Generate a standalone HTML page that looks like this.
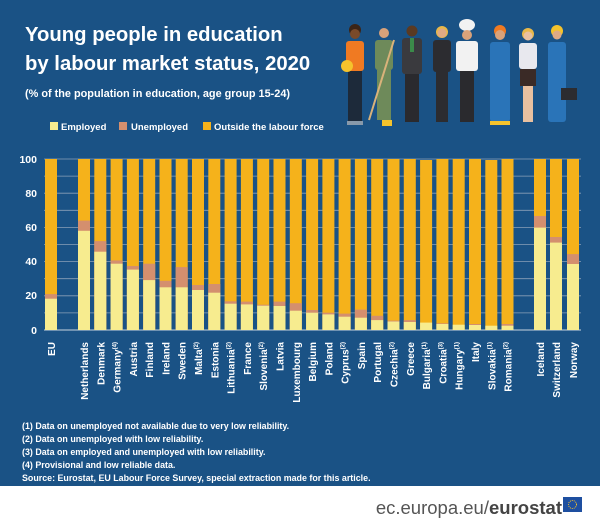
<!DOCTYPE html>
<html><head><meta charset="utf-8"><style>
html,body{margin:0;padding:0;background:#fff;}
svg{display:block;font-family:"Liberation Sans",sans-serif;}
</style></head><body>
<svg width="600" height="525" viewBox="0 0 600 525" xmlns="http://www.w3.org/2000/svg">
<rect x="0" y="0" width="600" height="486" fill="#1a5285"/>
<text x="25" y="41" fill="#fff" font-size="20.3" font-weight="bold">Young people in education</text>
<text x="25" y="70" fill="#fff" font-size="20.3" font-weight="bold">by labour market status, 2020</text>
<text x="25" y="97" fill="#fff" font-size="10.9" font-weight="bold">(% of the population in education, age group 15-24)</text>
<rect x="50" y="122" width="8" height="8" fill="#f7ec8f"/><text x="61" y="130" fill="#fff" font-size="9.5" font-weight="bold">Employed</text>
<rect x="119" y="122" width="8" height="8" fill="#d48f6e"/><text x="131" y="130" fill="#fff" font-size="9.5" font-weight="bold">Unemployed</text>
<rect x="203" y="122" width="8" height="8" fill="#f5b21b"/><text x="214" y="130" fill="#fff" font-size="9.5" font-weight="bold">Outside the labour force</text>

<g>
<g transform="translate(355,0)"><circle cx="0" cy="30" r="6" fill="#3b2416"/><circle cx="0" cy="34" r="5" fill="#7a4a2a"/><rect x="-9" y="41" width="18" height="30" rx="3" fill="#f07a22"/><rect x="-7" y="71" width="14" height="52" fill="#1d2a3a"/><rect x="-8" y="121" width="16" height="4" fill="#8899aa"/><circle cx="-8" cy="66" r="6" fill="#f5c32c"/></g>
<g transform="translate(384,0)"><circle cx="0" cy="33" r="5" fill="#d9a27a"/><rect x="-9" y="40" width="18" height="30" rx="3" fill="#6e8a5a"/><rect x="-7" y="70" width="14" height="50" fill="#6e8a5a"/><rect x="-2" y="120" width="10" height="6" fill="#f5c32c"/><line x1="-15" y1="120" x2="10" y2="40" stroke="#d9b27a" stroke-width="2"/></g>
<g transform="translate(412,0)"><circle cx="0" cy="31" r="5.5" fill="#5a3a22"/><rect x="-10" y="38" width="20" height="36" rx="3" fill="#3a3a3e"/><rect x="-2" y="38" width="4" height="14" fill="#3b8a4a"/><rect x="-7" y="74" width="14" height="48" fill="#2a2a2e"/></g>
<g transform="translate(442,0)"><circle cx="0" cy="32" r="6" fill="#e8b84a"/><circle cx="0" cy="33" r="4.5" fill="#e0a984"/><rect x="-9" y="40" width="18" height="32" rx="3" fill="#2c2c30"/><rect x="-6" y="72" width="12" height="50" fill="#2c2c30"/></g>
<g transform="translate(467,0)"><ellipse cx="0" cy="25" rx="8" ry="6" fill="#f2f2f2"/><circle cx="0" cy="35" r="5" fill="#d9a27a"/><rect x="-11" y="41" width="22" height="30" rx="3" fill="#f2f2f2"/><rect x="-7" y="71" width="14" height="51" fill="#2a2a2e"/></g>
<g transform="translate(500,0)"><circle cx="0" cy="31" r="6" fill="#f07a22"/><circle cx="0" cy="35" r="5" fill="#d9a27a"/><rect x="-10" y="42" width="20" height="80" rx="3" fill="#2a74b8"/><rect x="-10" y="121" width="20" height="4" fill="#f5c32c"/></g>
<g transform="translate(528,0)"><circle cx="0" cy="34" r="6" fill="#e8b84a"/><circle cx="0" cy="36" r="4.5" fill="#e8c0a0"/><rect x="-9" y="43" width="18" height="26" rx="3" fill="#e8e8ee"/><rect x="-8" y="69" width="16" height="17" fill="#3a2a26"/><rect x="-5" y="86" width="10" height="36" fill="#e8c0a0"/></g>
<g transform="translate(557,0)"><circle cx="0" cy="31" r="6" fill="#f5c32c"/><circle cx="0" cy="35" r="4.5" fill="#e0a984"/><rect x="-9" y="42" width="18" height="80" rx="3" fill="#2a74b8"/><rect x="4" y="88" width="16" height="12" fill="#2c2c30"/></g>
</g>

<g stroke="#8aa0b8" stroke-width="0.8">
<line x1="44" y1="159" x2="581" y2="159"/><line x1="44" y1="176.1" x2="581" y2="176.1"/><line x1="44" y1="193.2" x2="581" y2="193.2"/><line x1="44" y1="210.3" x2="581" y2="210.3"/><line x1="44" y1="227.4" x2="581" y2="227.4"/><line x1="44" y1="244.5" x2="581" y2="244.5"/><line x1="44" y1="261.6" x2="581" y2="261.6"/><line x1="44" y1="278.7" x2="581" y2="278.7"/><line x1="44" y1="295.8" x2="581" y2="295.8"/><line x1="44" y1="312.9" x2="581" y2="312.9"/>
</g>
<line x1="44" y1="330" x2="581" y2="330" stroke="#c8d4e0" stroke-width="1"/>
<g fill="#fff" font-size="10.5" font-weight="bold" text-anchor="end">
<text x="37" y="163">100</text><text x="37" y="197">80</text><text x="37" y="231">60</text><text x="37" y="265">40</text><text x="37" y="299">20</text><text x="37" y="334">0</text>
</g>

<g id="bars">
<g fill="#f5b21b">
<rect x="45" y="159" width="12" height="171"/>
<rect x="78" y="159" width="12" height="171"/><rect x="94.3" y="159" width="12" height="171"/><rect x="110.6" y="159" width="12" height="171"/><rect x="126.9" y="159" width="12" height="171"/><rect x="143.2" y="159" width="12" height="171"/><rect x="159.5" y="159" width="12" height="171"/><rect x="175.7" y="159" width="12" height="171"/><rect x="192" y="159" width="12" height="171"/><rect x="208.3" y="159" width="12" height="171"/><rect x="224.6" y="159" width="12" height="171"/><rect x="240.9" y="159" width="12" height="171"/><rect x="257.2" y="159" width="12" height="171"/><rect x="273.5" y="159" width="12" height="171"/><rect x="289.8" y="159" width="12" height="171"/><rect x="306.1" y="159" width="12" height="171"/><rect x="322.4" y="159" width="12" height="171"/><rect x="338.6" y="159" width="12" height="171"/><rect x="354.9" y="159" width="12" height="171"/><rect x="371.2" y="159" width="12" height="171"/><rect x="387.5" y="159" width="12" height="171"/><rect x="403.8" y="159" width="12" height="171"/><rect x="420.1" y="160" width="12" height="170"/><rect x="436.4" y="159" width="12" height="171"/><rect x="452.7" y="159" width="12" height="171"/><rect x="469" y="159" width="12" height="171"/><rect x="485.3" y="160" width="12" height="170"/><rect x="501.5" y="159" width="12" height="171"/>
<rect x="534" y="159" width="12" height="171"/><rect x="550" y="159" width="12" height="171"/><rect x="567" y="159" width="12" height="171"/>
</g>
<g fill="#d48f6e">
<rect x="45" y="294.1" width="12" height="35.9"/>
<rect x="78" y="220.6" width="12" height="109.4"/><rect x="94.3" y="241.1" width="12" height="88.9"/><rect x="110.6" y="260.4" width="12" height="69.6"/><rect x="126.9" y="266" width="12" height="64"/><rect x="143.2" y="263.7" width="12" height="66.3"/><rect x="159.5" y="280.8" width="12" height="49.2"/><rect x="175.7" y="267.1" width="12" height="62.9"/><rect x="192" y="285" width="12" height="45"/><rect x="208.3" y="284" width="12" height="46"/><rect x="224.6" y="301.3" width="12" height="28.7"/><rect x="240.9" y="301.6" width="12" height="28.4"/><rect x="257.2" y="304.7" width="12" height="25.3"/><rect x="273.5" y="301.6" width="12" height="28.4"/><rect x="289.8" y="303.2" width="12" height="26.8"/><rect x="306.1" y="310" width="12" height="20"/><rect x="322.4" y="312.7" width="12" height="17.3"/><rect x="338.6" y="313.6" width="12" height="16.4"/><rect x="354.9" y="309.6" width="12" height="20.4"/><rect x="371.2" y="315.8" width="12" height="14.2"/><rect x="387.5" y="320.6" width="12" height="9.4"/><rect x="403.8" y="320.1" width="12" height="9.9"/><rect x="436.4" y="323.3" width="12" height="6.7"/><rect x="469" y="324" width="12" height="6"/><rect x="501.5" y="324" width="12" height="6"/>
<rect x="534" y="216" width="12" height="114"/><rect x="550" y="237" width="12" height="93"/><rect x="567" y="254.1" width="12" height="75.9"/>
</g>
<g fill="#f7ec8f">
<rect x="45" y="298.7" width="12" height="31.3"/>
<rect x="78" y="230.8" width="12" height="99.2"/><rect x="94.3" y="251.7" width="12" height="78.3"/><rect x="110.6" y="263.7" width="12" height="66.3"/><rect x="126.9" y="269.6" width="12" height="60.4"/><rect x="143.2" y="280.1" width="12" height="49.9"/><rect x="159.5" y="287.3" width="12" height="42.7"/><rect x="175.7" y="287.3" width="12" height="42.7"/><rect x="192" y="290" width="12" height="40"/><rect x="208.3" y="292.7" width="12" height="37.3"/><rect x="224.6" y="303.7" width="12" height="26.3"/><rect x="240.9" y="304.4" width="12" height="25.6"/><rect x="257.2" y="305.7" width="12" height="24.3"/><rect x="273.5" y="306" width="12" height="24"/><rect x="289.8" y="310.7" width="12" height="19.3"/><rect x="306.1" y="312.7" width="12" height="17.3"/><rect x="322.4" y="314.4" width="12" height="15.6"/><rect x="338.6" y="316.7" width="12" height="13.3"/><rect x="354.9" y="317.7" width="12" height="12.3"/><rect x="371.2" y="320.1" width="12" height="9.9"/><rect x="387.5" y="321.5" width="12" height="8.5"/><rect x="403.8" y="322" width="12" height="8"/><rect x="420.1" y="322.6" width="12" height="7.4"/><rect x="436.4" y="324" width="12" height="6"/><rect x="452.7" y="324.7" width="12" height="5.3"/><rect x="469" y="325" width="12" height="5"/><rect x="485.3" y="325.7" width="12" height="4.3"/><rect x="501.5" y="325.7" width="12" height="4.3"/>
<rect x="534" y="227.6" width="12" height="102.4"/><rect x="550" y="242.6" width="12" height="87.4"/><rect x="567" y="264" width="12" height="66"/>
</g>
</g>

<g fill="#fff" font-size="10" font-weight="bold" text-anchor="end">
<text transform="translate(55,342) rotate(-90)">EU</text>
<text transform="translate(88,342) rotate(-90)">Netherlands</text>
<text transform="translate(104.3,342) rotate(-90)">Denmark</text>
<text transform="translate(120.6,342) rotate(-90)">Germany<tspan font-size="6" dy="-4">(4)</tspan></text>
<text transform="translate(136.9,342) rotate(-90)">Austria</text>
<text transform="translate(153.2,342) rotate(-90)">Finland</text>
<text transform="translate(169.5,342) rotate(-90)">Ireland</text>
<text transform="translate(185.7,342) rotate(-90)">Sweden</text>
<text transform="translate(202,342) rotate(-90)">Malta<tspan font-size="6" dy="-4">(2)</tspan></text>
<text transform="translate(218.3,342) rotate(-90)">Estonia</text>
<text transform="translate(234.6,342) rotate(-90)">Lithuania<tspan font-size="6" dy="-4">(2)</tspan></text>
<text transform="translate(250.9,342) rotate(-90)">France</text>
<text transform="translate(267.2,342) rotate(-90)">Slovenia<tspan font-size="6" dy="-4">(2)</tspan></text>
<text transform="translate(283.5,342) rotate(-90)">Latvia</text>
<text transform="translate(299.8,342) rotate(-90)">Luxembourg</text>
<text transform="translate(316.1,342) rotate(-90)">Belgium</text>
<text transform="translate(332.4,342) rotate(-90)">Poland</text>
<text transform="translate(348.6,342) rotate(-90)">Cyprus<tspan font-size="6" dy="-4">(2)</tspan></text>
<text transform="translate(364.9,342) rotate(-90)">Spain</text>
<text transform="translate(381.2,342) rotate(-90)">Portugal</text>
<text transform="translate(397.5,342) rotate(-90)">Czechia<tspan font-size="6" dy="-4">(2)</tspan></text>
<text transform="translate(413.8,342) rotate(-90)">Greece</text>
<text transform="translate(430.1,342) rotate(-90)">Bulgaria<tspan font-size="6" dy="-4">(1)</tspan></text>
<text transform="translate(446.4,342) rotate(-90)">Croatia<tspan font-size="6" dy="-4">(3)</tspan></text>
<text transform="translate(462.7,342) rotate(-90)">Hungary<tspan font-size="6" dy="-4">(1)</tspan></text>
<text transform="translate(479,342) rotate(-90)">Italy</text>
<text transform="translate(495.3,342) rotate(-90)">Slovakia<tspan font-size="6" dy="-4">(1)</tspan></text>
<text transform="translate(511.5,342) rotate(-90)">Romania<tspan font-size="6" dy="-4">(2)</tspan></text>
<text transform="translate(544,342) rotate(-90)">Iceland</text>
<text transform="translate(560,342) rotate(-90)">Switzerland</text>
<text transform="translate(577,342) rotate(-90)">Norway</text>
</g>

<g fill="#fff" font-size="8.9" font-weight="bold">
<text x="22" y="429">(1) Data on unemployed not available due to very low reliability.</text>
<text x="22" y="442">(2) Data on unemployed with low reliability.</text>
<text x="22" y="455">(3) Data on employed and unemployed with low reliability.</text>
<text x="22" y="468">(4) Provisional and low reliable data.</text>
<text x="22" y="481">Source: Eurostat, EU Labour Force Survey, special extraction made for this article.</text>
</g>

<text x="562" y="514" text-anchor="end" font-size="18.5" fill="#555"><tspan>ec.europa.eu/</tspan><tspan font-weight="bold" fill="#444">eurostat</tspan></text>
<rect x="563" y="497" width="19" height="15" fill="#1e4fa0"/>
<circle cx="572.5" cy="504.5" r="4" fill="none" stroke="#f5c32c" stroke-width="1" stroke-dasharray="1 1"/>
</svg>
</body></html>
